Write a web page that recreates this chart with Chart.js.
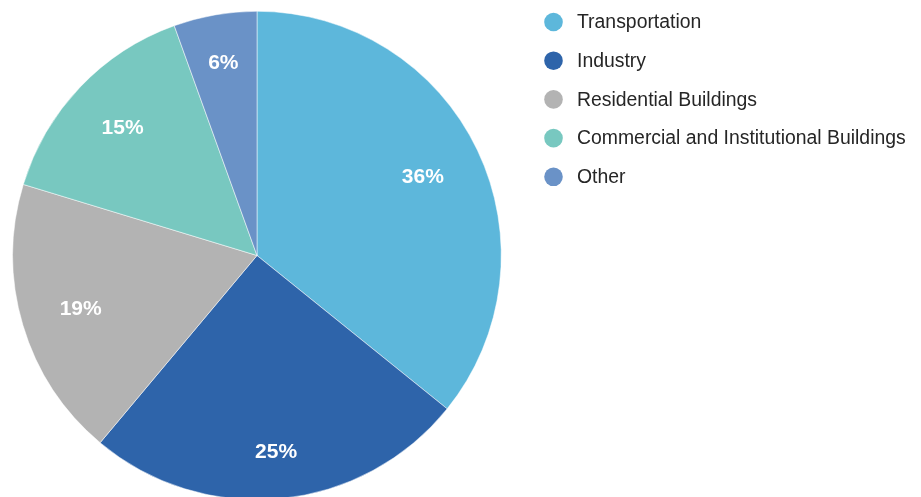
<!DOCTYPE html>
<html>
<head>
<meta charset="utf-8">
<script src="https://cdn.jsdelivr.net/npm/chart.js@4.4.1/dist/chart.umd.min.js"></script>
<style>
html,body{margin:0;padding:0;background:#fff;overflow:hidden;}
#wrap{position:relative;width:921px;height:510px;}
</style>
</head>
<body>
<div id="wrap"><canvas id="c" width="921" height="510"></canvas></div>
<script>
const categories = ["Transportation", "Industry", "Residential Buildings", "Commercial and Institutional Buildings", "Other"];
const shares = [35.8, 25.3, 18.6, 14.8, 5.5];
const sliceLabels = ["36%", "25%", "19%", "15%", "6%"];
const colors = ["#5db7db", "#2e64aa", "#b3b3b3", "#78c8c0", "#6a92c7"];

const labelPlugin = {
  id: "sliceLabels",
  afterDatasetsDraw(chart) {
    const ctx = chart.ctx;
    const meta = chart.getDatasetMeta(0);
    ctx.save();
    ctx.fillStyle = "#ffffff";
    ctx.font = "bold 21px 'Liberation Sans', Arial, sans-serif";
    ctx.textAlign = "center";
    ctx.textBaseline = "middle";
    meta.data.forEach((arc, i) => {
      const p = arc.getProps(["x", "y", "startAngle", "endAngle", "outerRadius"], true);
      const mid = (p.startAngle + p.endAngle) / 2;
      const hw = ctx.measureText(sliceLabels[i]).width / 2 + 1;
      const hh = 9;
      const c = Math.cos(mid), s = Math.sin(mid);
      const r = p.outerRadius * 0.85 - (Math.abs(c) * hw + Math.abs(s) * hh);
      ctx.fillText(sliceLabels[i], p.x + c * r, p.y + s * r + 1);
    });
    ctx.restore();
  }
};

const legendPlugin = {
  id: "sideLegend",
  afterDraw(chart) {
    const ctx = chart.ctx;
    ctx.save();
    ctx.font = "19.4px 'Liberation Sans', Arial, sans-serif";
    ctx.textBaseline = "middle";
    ctx.textAlign = "left";
    chart.data.labels.forEach((lab, i) => {
      const y = 22 + i * 38.7;
      ctx.fillStyle = chart.data.datasets[0].backgroundColor[i];
      ctx.beginPath();
      ctx.arc(553.5, y, 9.3, 0, Math.PI * 2);
      ctx.fill();
      ctx.fillStyle = "#262626";
      ctx.fillText(lab, 577, y + 1);
    });
    ctx.restore();
  }
};

new Chart(document.getElementById("c"), {
  type: "pie",
  data: {
    labels: categories,
    datasets: [{
      data: shares,
      backgroundColor: colors,
      borderColor: "#ffffff",
      borderWidth: 0.5
    }]
  },
  options: {
    responsive: false,
    animation: false,
    layout: { padding: { left: 12.5, right: 419.5, top: 11, bottom: 10 } },
    plugins: {
      legend: { display: false },
      tooltip: { enabled: false }
    }
  },
  plugins: [labelPlugin, legendPlugin]
});
</script>
</body>
</html>
